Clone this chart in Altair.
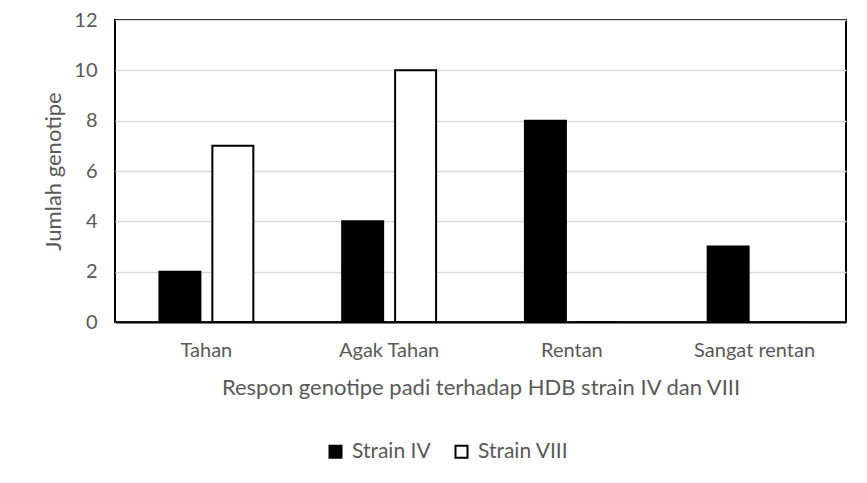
import altair as alt
import pandas as pd

categories = ["Tahan", "Agak Tahan", "Rentan", "Sangat rentan"]
series_names = ["Strain IV", "Strain VIII"]
strain_iv = [2, 4, 8, 3]
strain_viii = [7, 10, 0, 0]
y_ticks = [0, 2, 4, 6, 8, 10, 12]

rows = []
for c, a, b in zip(categories, strain_iv, strain_viii):
    rows.append({"Respon": c, "Strain": series_names[0], "Jumlah": a})
    rows.append({"Respon": c, "Strain": series_names[1], "Jumlah": b})
df = pd.DataFrame(rows)

FONT = "Lato"
GRAY = "#595959"

chart = alt.Chart(df).mark_bar(stroke="black", strokeWidth=2).encode(
    x=alt.X(
        "Respon:N",
        sort=categories,
        scale=alt.Scale(paddingInner=0.486, paddingOuter=0.243),
        axis=alt.Axis(
            title="Respon genotipe padi terhadap HDB strain IV dan VIII",
            labelAngle=0,
            ticks=False,
            domainColor="black",
            domainWidth=2,
            labelFontSize=20,
            labelColor=GRAY,
            labelFont=FONT,
            labelPadding=18,
            titleFontSize=22,
            titleFont=FONT,
            titleFontWeight="normal",
            titleColor=GRAY,
            titlePadding=17,
        ),
    ),
    xOffset=alt.XOffset(
        "Strain:N",
        sort=series_names,
        scale=alt.Scale(paddingInner=0.226, paddingOuter=0),
    ),
    y=alt.Y(
        "Jumlah:Q",
        scale=alt.Scale(domain=[0, 12]),
        axis=alt.Axis(
            values=y_ticks,
            title="Jumlah genotipe",
            grid=True,
            gridColor="#d9d9d9",
            gridWidth=1.5,
            domain=False,
            ticks=False,
            labelFontSize=20,
            labelColor=GRAY,
            labelFont=FONT,
            labelPadding=18,
            titleFontSize=22,
            titleFont=FONT,
            titleFontWeight="normal",
            titleColor=GRAY,
            titlePadding=8,
        ),
    ),
    fill=alt.Fill(
        "Strain:N",
        sort=series_names,
        scale=alt.Scale(domain=series_names, range=["#000000", "#ffffff"]),
        legend=alt.Legend(
            title=None,
            orient="none",
            legendX=210,
            legendY=421,
            direction="horizontal",
            symbolType="square",
            symbolSize=144,
            symbolStrokeColor="black",
            symbolStrokeWidth=2,
            labelFontSize=21,
            labelFont=FONT,
            labelColor=GRAY,
            labelOffset=6,
            columnPadding=20,
            padding=0,
        ),
    ),
).properties(
    width=731,
    height=302,
    background="white",
    autosize=alt.AutoSizeParams(type="none"),
    padding={"left": 107, "top": 12, "right": 13, "bottom": 153},
).configure_view(
    stroke="black",
    strokeWidth=2,
)

chart.save("out.html", embed_options={"renderer": "svg", "actions": False})
